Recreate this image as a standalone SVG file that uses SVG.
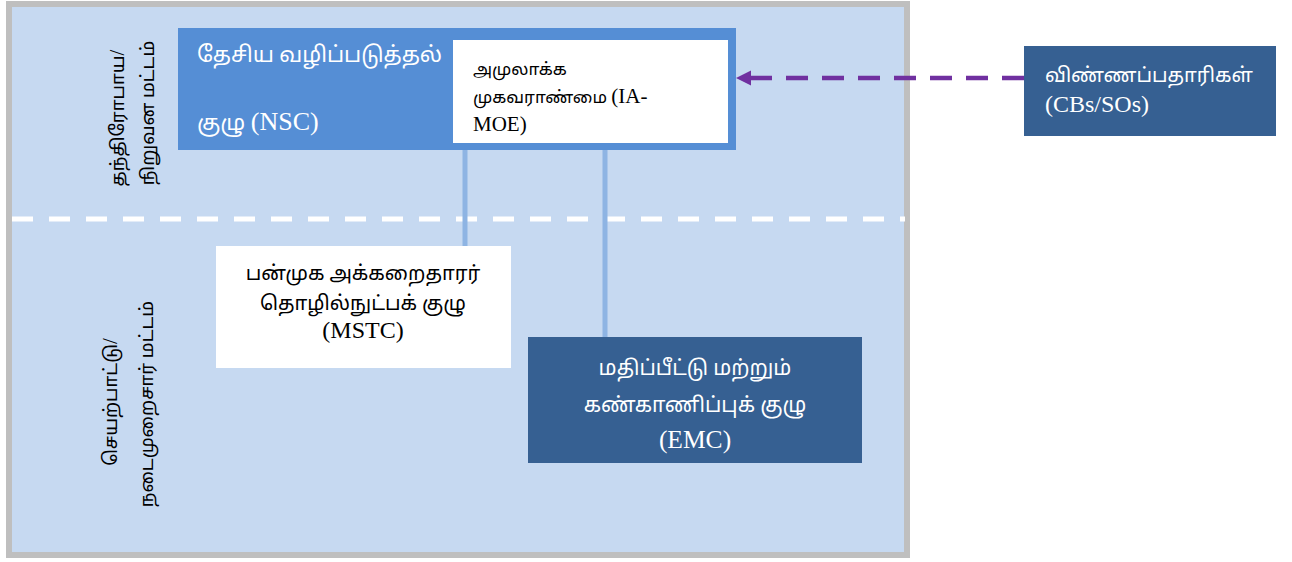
<svg xmlns="http://www.w3.org/2000/svg" width="1292" height="562" viewBox="0 0 1292 562">
<defs>
<style>
.t{font-family:"Liberation Serif","Noto Sans Tamil","Noto Serif Tamil",serif;}
.w{fill:#ffffff;}
.b{fill:#000000;}
.conn{stroke:#8eb4e3;stroke-width:5;fill:none;}
</style>
<marker id="ah" markerWidth="16" markerHeight="16" refX="15" refY="8" orient="auto" markerUnits="userSpaceOnUse" viewBox="0 0 16 16">
<path d="M15,8 L0,0.5 L0,15.5 Z" fill="#7030a0"/>
</marker>
</defs>
<rect width="1292" height="562" fill="#ffffff"/>
<g id="frame">
<rect x="9" y="4" width="898" height="551" fill="#c6d9f1" stroke="#bfbfbf" stroke-width="6"/>
<line x1="12" y1="219" x2="905" y2="219" stroke="#ffffff" stroke-width="5" stroke-dasharray="21 16"/>
</g>
<g id="label-strategic" class="t b" font-size="18.5" text-anchor="middle">
<text transform="translate(124,118) rotate(-90)">தந்திரோபாய<tspan font-size="21">/</tspan></text>
<text transform="translate(154,113) rotate(-90)">நிறுவன மட்டம்</text>
</g>
<g id="label-operational" class="t b" font-size="18.5" text-anchor="middle">
<text transform="translate(117,402) rotate(-90)">செயற்பாட்டு<tspan font-size="21">/</tspan></text>
<text transform="translate(153,404) rotate(-90)">நடைமுறைசார் மட்டம்</text>
</g>
<g id="nsc">
<rect x="178" y="28" width="558" height="122" fill="#558ed5"/>
<text class="t w" x="197" y="62" font-size="22">தேசிய வழிப்படுத்தல்</text>
<text class="t w" x="197" y="130" font-size="22">குழு <tspan font-size="26">(NSC)</tspan></text>
</g>
<g id="ia-moe">
<rect x="453" y="40" width="275" height="103" fill="#ffffff"/>
<text class="t b" x="473" y="75" font-size="17">அமுலாக்க</text>
<text class="t b" x="473" y="103" font-size="17">முகவராண்மை <tspan font-size="21">(IA-</tspan></text>
<text class="t b" x="473" y="131" font-size="21">MOE)</text>
</g>
<g id="mstc">
<rect x="216" y="246" width="295" height="122" fill="#ffffff"/>
<g class="t b" font-size="20" text-anchor="middle">
<text x="363" y="280">பன்முக அக்கறைதாரர்</text>
<text x="363" y="310">தொழில்நுட்பக் குழு</text>
<text x="363" y="338" font-size="24">(MSTC)</text>
</g>
</g>
<g id="emc">
<rect x="528" y="337" width="334" height="126" fill="#366092"/>
<g class="t w" font-size="21" text-anchor="middle">
<text x="695" y="375">மதிப்பீட்டு மற்றும்</text>
<text x="695" y="412">கண்காணிப்புக் குழு</text>
<text x="695" y="448" font-size="25.5">(EMC)</text>
</g>
</g>
<g id="cbs">
<rect x="1024" y="46" width="252" height="90" fill="#366092"/>
<text class="t w" x="1045" y="82" font-size="20">விண்ணப்பதாரிகள்</text>
<text class="t w" x="1045" y="112" font-size="24">(CBs/SOs)</text>
</g>
<g id="connectors">
<line class="conn" x1="465" y1="150" x2="465" y2="246"/>
<line class="conn" x1="605" y1="150" x2="605" y2="337"/>
<line x1="1024" y1="78" x2="736" y2="78" stroke="#7030a0" stroke-width="4.5" stroke-dasharray="22 14" marker-end="url(#ah)"/>
</g>
</svg>
